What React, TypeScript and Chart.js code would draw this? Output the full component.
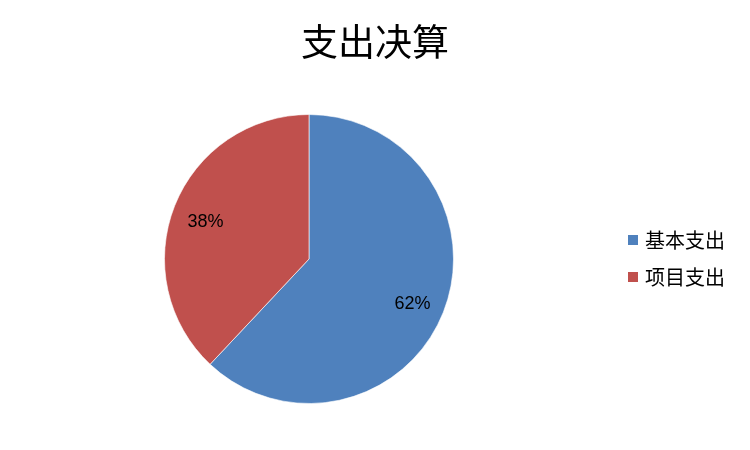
import { useEffect, useRef } from "react";
import { Chart, registerables } from "chart.js";

Chart.register(...registerables);

const chartTitle = "支出决算";
const categories = ["基本支出", "项目支出"];
const values = [62, 38];
const colors = ["#4F81BD", "#C0504D"];

const CJK = '"Noto Sans CJK SC", "Noto Sans", sans-serif';

// draws title, percentage labels and the legend on the canvas
const decorPlugin = {
  id: "decor",
  afterDraw(chart: any) {
    const ctx = chart.ctx;
    const w = chart.width;
    ctx.save();

    // title
    ctx.fillStyle = "#000";
    ctx.font = `37px ${CJK}`;
    ctx.textAlign = "center";
    ctx.textBaseline = "middle";
    ctx.fillText(chartTitle, w / 2, 42);

    // percentage labels
    const meta = chart.getDatasetMeta(0);
    const total = values.reduce((a, b) => a + b, 0);
    ctx.font = '18px "Liberation Sans", "Noto Sans", sans-serif';
    meta.data.forEach((arc: any, i: number) => {
      const { x, y, startAngle, endAngle, outerRadius } = arc.getProps(
        ["x", "y", "startAngle", "endAngle", "outerRadius"],
        true
      );
      const mid = (startAngle + endAngle) / 2;
      const d = outerRadius * 0.77;
      const pct = Math.round((values[i] / total) * 100) + "%";
      ctx.fillText(pct, x + Math.cos(mid) * d, y + Math.sin(mid) * d + 4);
    });

    // legend
    ctx.textAlign = "left";
    ctx.font = `20px ${CJK}`;
    categories.forEach((c, i) => {
      const cy = 240 + i * 37;
      ctx.fillStyle = colors[i];
      ctx.fillRect(628, cy - 5, 10, 10);
      ctx.fillStyle = "#000";
      ctx.fillText(c, 645, cy);
    });

    ctx.restore();
  },
};

export default function App() {
  const chartRef = useRef<HTMLCanvasElement | null>(null);
  const chartInstance = useRef<Chart | null>(null);

  useEffect(() => {
    document.body.style.margin = "0";
    if (chartRef.current) {
      if (chartInstance.current) {
        chartInstance.current.destroy();
      }
      chartInstance.current = new Chart(chartRef.current, {
        type: "pie",
        data: {
          labels: categories,
          datasets: [
            {
              data: values,
              backgroundColor: colors,
              borderColor: "rgba(255,255,255,0.6)",
              borderWidth: 1,
            },
          ],
        },
        options: {
          responsive: false,
          animation: false,
          layout: {
            padding: { left: 164, right: 296, top: 114, bottom: 46 },
          },
          plugins: {
            legend: { display: false },
            title: { display: false },
            tooltip: { enabled: false },
          },
        },
        plugins: [decorPlugin],
      });
    }
    return () => {
      if (chartInstance.current) {
        chartInstance.current.destroy();
        chartInstance.current = null;
      }
    };
  }, []);

  return (
    <div style={{ width: 750, height: 450, background: "#fff" }}>
      <canvas ref={chartRef} width={750} height={450}></canvas>
    </div>
  );
}
